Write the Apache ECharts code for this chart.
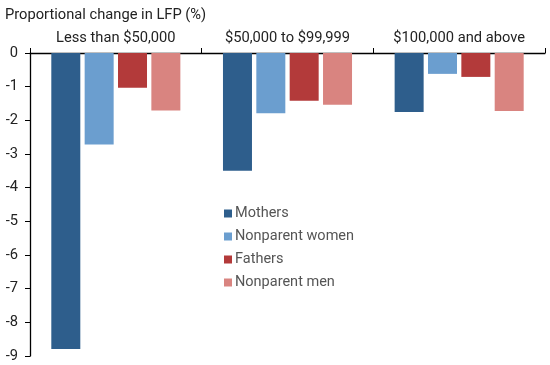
<!DOCTYPE html>
<html><head><meta charset="utf-8">
<script src="https://cdn.jsdelivr.net/npm/echarts@6/dist/echarts.min.js"></script>
<style>html,body{margin:0;padding:0;background:#fff}#c{width:550px;height:365px}</style>
</head><body><div id="c"></div>
<script>
var categories = ['Less than $50,000', '$50,000 to $99,999', '$100,000 and above'];
var seriesNames = ['Mothers', 'Nonparent women', 'Fathers', 'Nonparent men'];
var mothers = [-8.79, -3.50, -1.75];
var nonparentWomen = [-2.72, -1.79, -0.62];
var fathers = [-1.03, -1.42, -0.71];
var nonparentMen = [-1.71, -1.54, -1.72];
var colors = ['#2e5e8c', '#6b9ecf', '#b33a3a', '#d98480'];
var values = [mothers, nonparentWomen, fathers, nonparentMen];

var chart = echarts.init(document.getElementById('c'));
var font = 'Roboto';
chart.setOption({
  animation: false,
  title: {text: 'Proportional change in LFP (%)', left: 0, top: 3,
    textStyle: {fontFamily: font, fontSize: 14.7, fontWeight: 'normal', color: '#222'}},
  legend: {orient: 'vertical', left: 219, top: 201, itemWidth: 8, itemHeight: 8, itemGap: 8,
    icon: 'rect', data: seriesNames,
    textStyle: {fontFamily: font, fontSize: 14.5, color: '#555', padding: [0,0,0,-2]}},
  grid: {left: 30, right: 5, top: 53, bottom: 9},
  xAxis: {type: 'category', position: 'top', data: categories,
    axisLine: {lineStyle: {color: '#000', width: 1.3}},
    axisTick: {show: true, length: 5, lineStyle: {color: '#000'}},
    axisLabel: {fontFamily: font, fontSize: 14.7, color: '#222', margin: 7}},
  yAxis: {type: 'value', min: -9, max: 0, interval: 1,
    splitLine: {show: false},
    axisLine: {show: true, lineStyle: {color: '#000', width: 1.3}},
    axisTick: {show: true, length: 5, lineStyle: {color: '#000'}},
    axisLabel: {fontFamily: font, fontSize: 14.7, color: '#222', margin: 12}},
  series: seriesNames.map(function (n, i) {
    return {name: n, type: 'bar', data: values[i], barWidth: 29, barGap: '15%',
      itemStyle: {color: colors[i]}};
  })
});
</script></body></html>
